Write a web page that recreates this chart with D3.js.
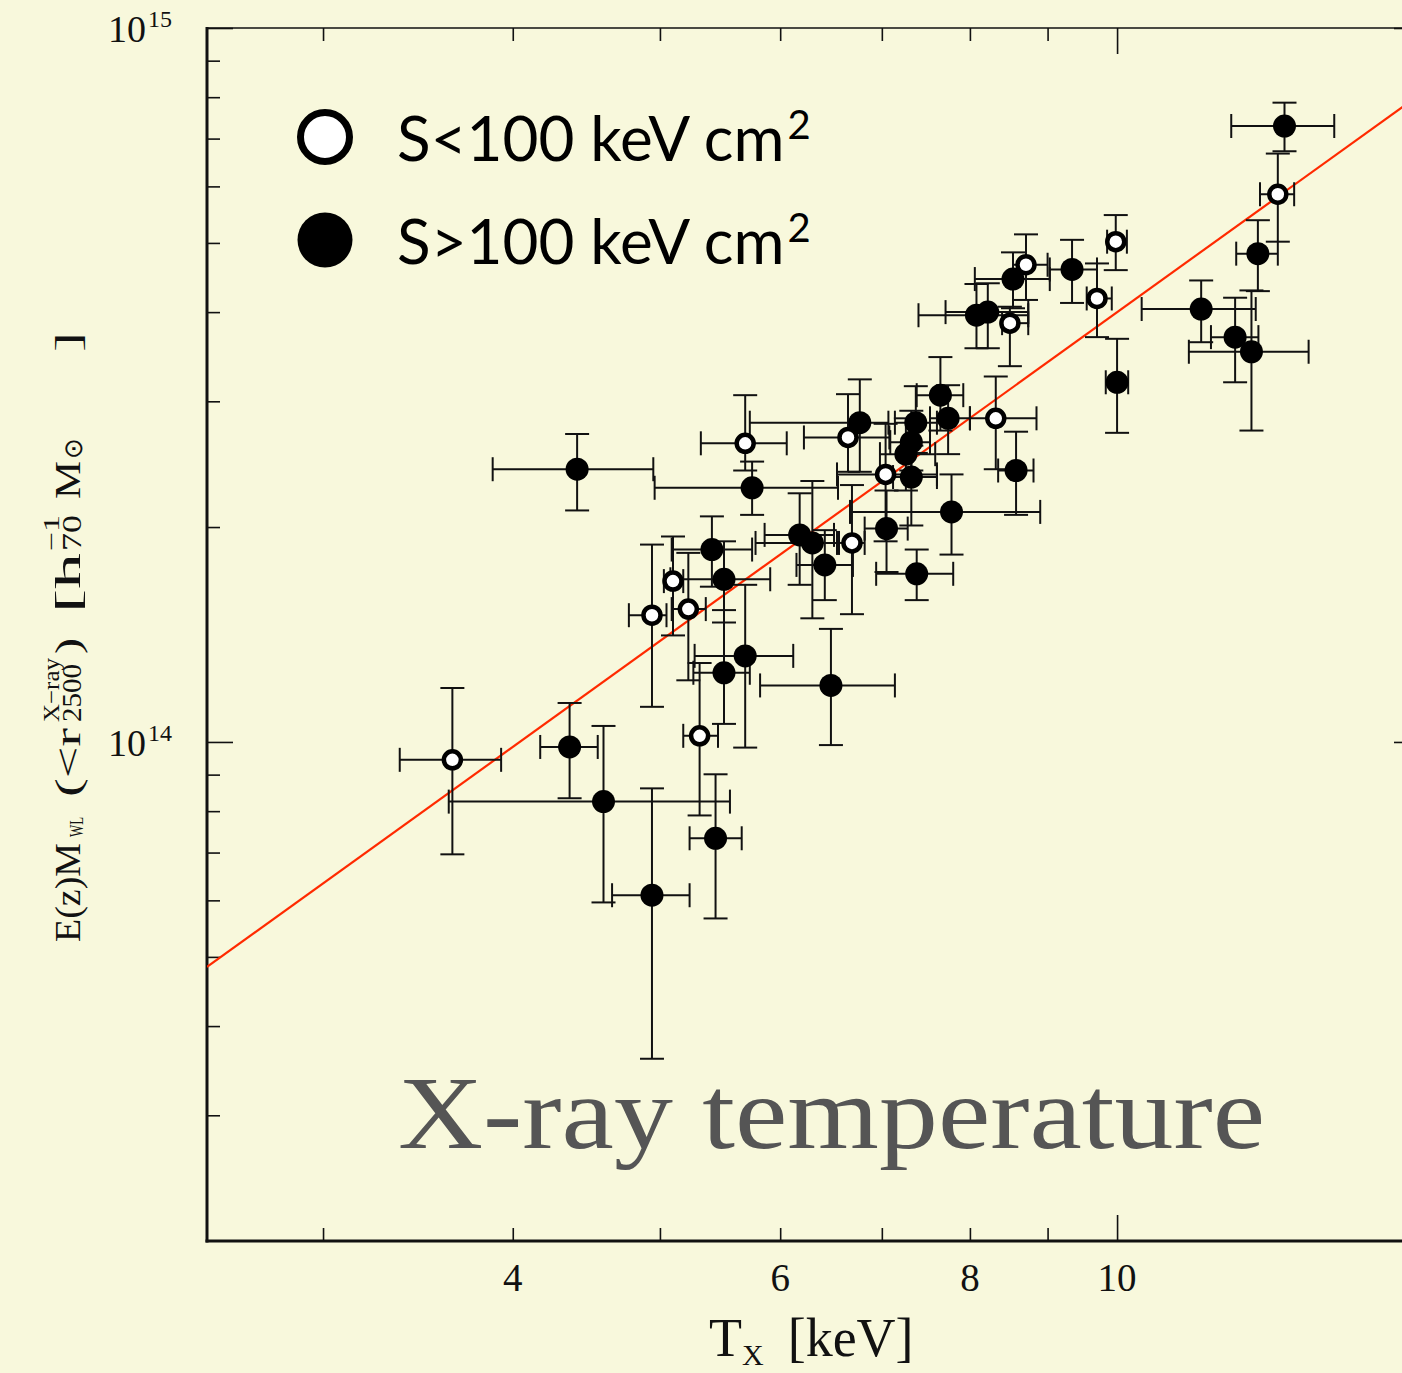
<!DOCTYPE html>
<html>
<head>
<meta charset="utf-8">
<title>Weak-lensing mass vs X-ray temperature</title>
<style>
  body { margin: 0; background: #f8f8dc; }
  svg { display: block; }
  .tick-lbl { font-family: "Liberation Serif", serif; fill: #111; }
</style>
<script src="https://d3js.org/d3.v7.min.js"></script>
</head>
<body>
<svg id="chart" width="1402" height="1373"></svg>
<script>
// temperature in keV, mass in units of 1e14 h70^-1 Msun
// low entropy clusters (S<100 keV cm^2), open symbols
const openT   = [3.65, 4.94, 5.10, 5.22, 5.31, 5.69, 6.65, 6.69, 7.04, 8.32, 8.50, 8.71, 9.70, 9.98, 12.76];
const openTlo = [3.37, 4.77, 5.03, 5.09, 5.18, 5.32, 6.22, 6.56, 6.54, 8.00, 8.40, 8.54, 9.55, 9.85, 12.42];
const openThi = [3.93, 5.05, 5.18, 5.36, 5.46, 6.06, 7.08, 6.82, 7.61, 8.85, 8.74, 9.00, 9.92, 10.15, 13.08];
const openM   = [0.944, 1.505, 1.68, 1.535, 1.02, 2.62, 2.67, 1.90, 2.37, 2.84, 3.86, 4.66, 4.18, 5.02, 5.85];
const openMlo = [0.696, 1.12, 1.41, 1.22, 0.789, 2.40, 2.39, 1.51, 1.91, 2.41, 3.36, 4.16, 3.69, 4.58, 5.02];
const openMhi = [1.19, 1.89, 1.94, 1.84, 1.29, 3.06, 3.07, 2.29, 2.79, 3.25, 4.07, 5.14, 4.68, 5.47, 6.67];

// high entropy clusters (S>100 keV cm^2), filled symbols
const fillT   = [4.41, 4.36, 4.59, 4.94, 5.44, 5.41, 5.51, 5.51, 5.69, 5.75, 6.18, 6.30, 6.42, 6.48, 6.77, 7.05, 7.26, 7.32,
                 7.32, 7.37, 7.38, 7.65, 7.74, 7.78, 8.08, 8.22, 8.54, 8.58, 9.34, 10.0, 11.36, 11.96, 12.26, 12.38, 12.89];
const fillTlo = [3.88, 4.17, 3.63, 4.65, 5.23, 5.09, 5.08, 5.26, 5.27, 4.96, 5.86, 5.78, 6.15, 5.82, 5.73, 6.82, 6.98, 7.09,
                 7.12, 7.14, 6.94, 7.38, 7.53, 6.67, 7.40, 7.71, 8.06, 8.35, 9.03, 9.83, 10.38, 11.53, 11.15, 11.98, 11.89];
const fillThi = [4.95, 4.55, 5.56, 5.23, 5.66, 5.75, 5.91, 5.73, 6.12, 6.55, 6.51, 6.54, 6.70, 7.14, 7.07, 7.28, 7.59, 7.53,
                 7.61, 7.61, 7.80, 7.92, 8.00, 8.90, 8.74, 8.74, 9.03, 8.81, 9.70, 10.17, 12.34, 12.39, 13.37, 12.76, 13.90];
const fillM   = [2.41, 0.984, 0.825, 0.610, 0.733, 1.86, 1.69, 1.25, 1.32, 2.27, 1.95, 1.90, 1.77, 1.20, 2.80, 1.99, 2.53, 2.63,
                 2.35, 2.80, 1.72, 3.06, 2.84, 2.10, 3.96, 4.00, 4.45, 2.40, 4.59, 3.19, 4.04, 3.69, 3.52, 4.83, 7.29];
const fillMlo = [2.11, 0.834, 0.596, 0.360, 0.566, 1.65, 1.47, 1.06, 0.982, 2.08, 1.66, 1.49, 1.58, 0.99, 2.39, 1.73, 2.25, 2.40,
                 2.01, 2.54, 1.58, 2.73, 2.53, 1.83, 3.56, 3.56, 4.05, 2.08, 4.12, 2.71, 3.63, 3.19, 2.73, 4.28, 6.72];
const fillMhi = [2.70, 1.134, 1.053, 0.861, 0.901, 2.07, 1.91, 1.53, 1.66, 2.47, 2.23, 2.32, 1.98, 1.44, 3.22, 2.25, 2.84, 2.91,
                 2.60, 3.15, 1.86, 3.46, 3.16, 2.37, 4.38, 4.39, 4.85, 2.72, 5.05, 3.67, 4.43, 4.19, 4.29, 5.38, 7.86];

// power-law fit  M = norm * (T/pivot)^slope
const fitNorm = 1.83, fitPivot = 6, fitSlope = 1.53;

const xMinor = [3, 4, 5, 6, 7, 8, 9];
const xMajor = [10];
const xLabels = [4, 6, 8, 10];
const yMinor = [0.3, 0.4, 0.5, 0.6, 0.7, 0.8, 0.9, 2, 3, 4, 5, 6, 7, 8, 9];
const yMajor = [1, 10];
const yLabels = [[1, "14"], [10, "15"]];

const legendItems = [["S<100 keV cm", true], ["S>100 keV cm", false]];

const svg = d3.select("#chart");
const W = 1402, H = 1373;
const pLeft = 207, pTop = 28, pRight = 1420, pBottom = 1241;

svg.append("rect").attr("width", W).attr("height", H).attr("fill", "#f8f8dc");

const x = d3.scaleLog().domain([2.516, 15.83]).range([pLeft, pRight]);
const y = d3.scaleLog().domain([0.2, 10]).range([pBottom, pTop]);

svg.append("clipPath").attr("id", "plotclip")
  .append("rect").attr("x", pLeft).attr("y", pTop).attr("width", pRight - pLeft).attr("height", pBottom - pTop);

// ticks, all pointing inward
function ticks(axisFn, scale, vals, size, tr) {
  const g = svg.append("g").attr("transform", tr)
    .call(axisFn(scale).tickValues(vals).tickSize(size).tickFormat(""));
  g.select(".domain").remove();
  g.selectAll("line").attr("stroke", "#111").attr("stroke-width", 1.6);
}
ticks(d3.axisBottom, x, xMinor, -13, `translate(0,${pBottom})`);
ticks(d3.axisBottom, x, xMajor, -26, `translate(0,${pBottom})`);
ticks(d3.axisTop, x, xMinor, -13, `translate(0,${pTop})`);
ticks(d3.axisTop, x, xMajor, -26, `translate(0,${pTop})`);
ticks(d3.axisLeft, y, yMinor, -13, `translate(${pLeft},0)`);
ticks(d3.axisLeft, y, yMajor, -26, `translate(${pLeft},0)`);
ticks(d3.axisRight, y, yMinor, -13, `translate(${pRight},0)`);
ticks(d3.axisRight, y, yMajor, -26, `translate(${pRight},0)`);

// frame: heavy left/bottom, thin top/right
svg.append("line").attr("x1", pLeft).attr("x2", pRight + 5).attr("y1", pTop).attr("y2", pTop)
  .attr("stroke", "#111").attr("stroke-width", 1.6);
svg.append("line").attr("x1", pRight).attr("x2", pRight).attr("y1", pTop).attr("y2", pBottom)
  .attr("stroke", "#111").attr("stroke-width", 1.6);
svg.append("line").attr("x1", pLeft).attr("x2", pLeft).attr("y1", pTop - 1).attr("y2", pBottom + 1.5)
  .attr("stroke", "#111").attr("stroke-width", 3);
svg.append("line").attr("x1", pLeft - 1.5).attr("x2", pRight + 5).attr("y1", pBottom).attr("y2", pBottom)
  .attr("stroke", "#111").attr("stroke-width", 3);

// tick labels
svg.selectAll(".xl").data(xLabels).enter().append("text")
  .attr("class", "tick-lbl")
  .attr("x", d => x(d)).attr("y", 1291)
  .attr("text-anchor", "middle").attr("font-size", 39)
  .text(d => d);

yLabels.forEach(([v, p]) => {
  const t = svg.append("text").attr("class", "tick-lbl")
    .attr("x", 108).attr("y", y(v) + 14).attr("font-size", 38);
  t.append("tspan").text("10");
  t.append("tspan").attr("dx", 2).attr("dy", -15).attr("font-size", 24).text(p);
});

// x axis title
const xt = svg.append("text").attr("class", "tick-lbl").attr("x", 709).attr("y", 1356).attr("font-size", 54);
xt.append("tspan").text("T");
xt.append("tspan").attr("font-size", 30).attr("dy", 9).text("X");
xt.append("tspan").attr("dy", -9).attr("dx", 24).text("[keV]");

// y axis title, rotated; u runs upward along the page
const yt = svg.append("g").attr("transform", "translate(80,0) rotate(-90)")
  .attr("font-family", "'Liberation Serif', serif").attr("fill", "#111");
const ypart = (u, v, size, txt, len) => {
  const t = yt.append("text").attr("x", u).attr("y", v).attr("font-size", size).text(txt);
  if (len) t.attr("textLength", len).attr("lengthAdjust", "spacingAndGlyphs");
};
ypart(-942, 0, 35, "E(z)M", 99);
ypart(-837, 3, 19, "WL", 20);
ypart(-797, 0, 35, "(<r", 69);
ypart(-722, -21, 23, "X\u2212ray", 64);
ypart(-722, 1, 27, "2500", 58);
ypart(-654, 0, 35, ")", 16);
ypart(-613, 0, 35, "[h", 60);
ypart(-551, -21, 23, "\u22121", 36);
ypart(-551, 1, 27, "70", 36);
ypart(-499, 0, 35, "M", 38);
ypart(-459, 2, 26, "\u2299", 21);
ypart(-352, 0, 35, "]", 20);

// plot body
const body = svg.append("g").attr("clip-path", "url(#plotclip)");

// fit line
const fitX = x.domain();
body.append("path")
  .datum(fitX)
  .attr("d", d3.line().x(d => x(d)).y(d => y(fitNorm * Math.pow(d / fitPivot, fitSlope))))
  .attr("fill", "none").attr("stroke", "#ff2a00").attr("stroke-width", 2.2);

const pts = [];
openT.forEach((t, i) => pts.push({t, tlo: openTlo[i], thi: openThi[i], m: openM[i], mlo: openMlo[i], mhi: openMhi[i], open: true}));
fillT.forEach((t, i) => pts.push({t, tlo: fillTlo[i], thi: fillThi[i], m: fillM[i], mlo: fillMlo[i], mhi: fillMhi[i], open: false}));

const cap = 12;
const eb = body.append("g").attr("stroke", "#111").attr("stroke-width", 2);
pts.forEach(p => {
  const cx = x(p.t), cy = y(p.m);
  const x0 = x(p.tlo), x1 = x(p.thi), y0 = y(p.mlo), y1 = y(p.mhi);
  eb.append("line").attr("x1", x0).attr("x2", x1).attr("y1", cy).attr("y2", cy);
  eb.append("line").attr("x1", cx).attr("x2", cx).attr("y1", y0).attr("y2", y1);
  eb.append("line").attr("x1", x0).attr("x2", x0).attr("y1", cy - cap).attr("y2", cy + cap);
  eb.append("line").attr("x1", x1).attr("x2", x1).attr("y1", cy - cap).attr("y2", cy + cap);
  eb.append("line").attr("x1", cx - cap).attr("x2", cx + cap).attr("y1", y0).attr("y2", y0);
  eb.append("line").attr("x1", cx - cap).attr("x2", cx + cap).attr("y1", y1).attr("y2", y1);
});

body.selectAll("circle.pt").data(pts.filter(p => !p.open)).enter().append("circle")
  .attr("class", "pt").attr("cx", d => x(d.t)).attr("cy", d => y(d.m))
  .attr("r", 11.5).attr("fill", "#000");
body.selectAll("circle.op").data(pts.filter(p => p.open)).enter().append("circle")
  .attr("class", "op").attr("cx", d => x(d.t)).attr("cy", d => y(d.m))
  .attr("r", 8.5).attr("fill", "#fff").attr("stroke", "#000").attr("stroke-width", 4.5);

// legend
legendItems.forEach(([label, open], i) => {
  const cy = 137 + i * 103;
  const c = svg.append("circle").attr("cx", 325).attr("cy", cy);
  if (open) c.attr("r", 24.5).attr("fill", "#fff").attr("stroke", "#000").attr("stroke-width", 7);
  else c.attr("r", 27.5).attr("fill", "#000");
  const t = svg.append("text").attr("x", 397).attr("y", cy + 24)
    .attr("font-family", "'Gill Sans', Lato, 'Open Sans', sans-serif").attr("font-size", 62).attr("fill", "#000");
  t.append("tspan").text(label);
  t.append("tspan").attr("dx", 3).attr("dy", -22).attr("font-size", 40).text("2");
});

// panel title
svg.append("text").attr("x", 398).attr("y", 1148)
  .attr("font-family", "'Palatino Linotype', Palatino, 'Liberation Serif', serif")
  .attr("font-size", 104).attr("fill", "#555")
  .attr("textLength", 867).attr("lengthAdjust", "spacingAndGlyphs")
  .text("X-ray temperature");
</script>
</body>
</html>
